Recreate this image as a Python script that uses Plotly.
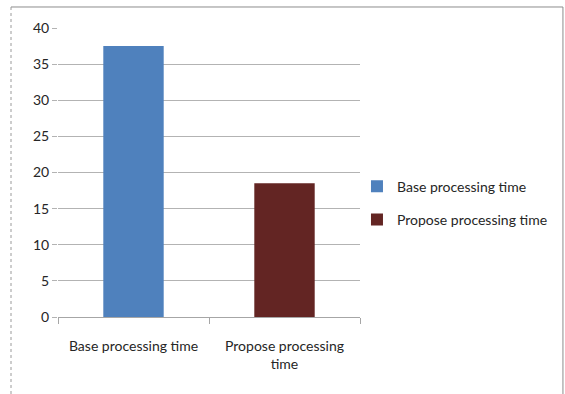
import plotly.graph_objects as go

categories = ["Base processing time", "Propose processing<br>time"]
series_names = ["Base processing time", "Propose processing time"]
values = [37.5, 18.5]
colors = ["#4f81bd", "#632523"]
y_ticks = [0, 5, 10, 15, 20, 25, 30, 35, 40]

font_family = "Lato, 'Open Sans', sans-serif"

fig = go.Figure()
for i, (name, cat, val, col) in enumerate(zip(series_names, categories, values, colors)):
    fig.add_trace(go.Bar(
        x=[cat], y=[val], name=name, marker=dict(color=col, line=dict(width=0)),
        width=0.4, legendgroup=f"g{i}",
    ))

# outer chart frame
frame = dict(type="line", xref="paper", yref="paper", line=dict(color="#8c8c8c", width=1))
fig.add_shape(**frame, x0=-0.1556, x1=1.672, y0=1.0727, y1=1.0727)
fig.add_shape(**frame, x0=1.672, x1=1.672, y0=1.0727, y1=-0.3)
fig.add_shape(type="line", xref="paper", yref="paper", x0=-0.1556, x1=-0.1556,
              y0=1.0727, y1=-0.3, line=dict(color="#9a9a9a", width=1, dash="dot"))

fig.update_layout(
    width=565, height=394,
    margin=dict(l=58, r=205, t=28, b=77, autoexpand=False),
    paper_bgcolor="white", plot_bgcolor="white",
    barmode="overlay",
    font=dict(family=font_family, size=14, color="#262626"),
    showlegend=True,
    legend=dict(x=0.99, y=0.394, xanchor="left", yanchor="middle",
                font=dict(size=14, color="#262626"), tracegroupgap=12,
                itemwidth=30, bgcolor="rgba(0,0,0,0)"),
    xaxis=dict(
        showgrid=False, showline=True, linecolor="#a6a6a6", linewidth=1,
        ticks="outside", tickson="boundaries", ticklen=6, tickcolor="#a6a6a6",
        tickfont=dict(size=14, color="#262626"), ticklabelstandoff=16,
    ),
    yaxis=dict(
        range=[0, 40], tickvals=y_ticks, showgrid=True, gridcolor="#b3b3b3", gridwidth=1,
        showline=False, ticks="outside", ticklen=5, tickcolor="#b3b3b3",
        tickfont=dict(size=14, color="#262626"), zeroline=False,
    ),
)

fig.write_html("out.html")
